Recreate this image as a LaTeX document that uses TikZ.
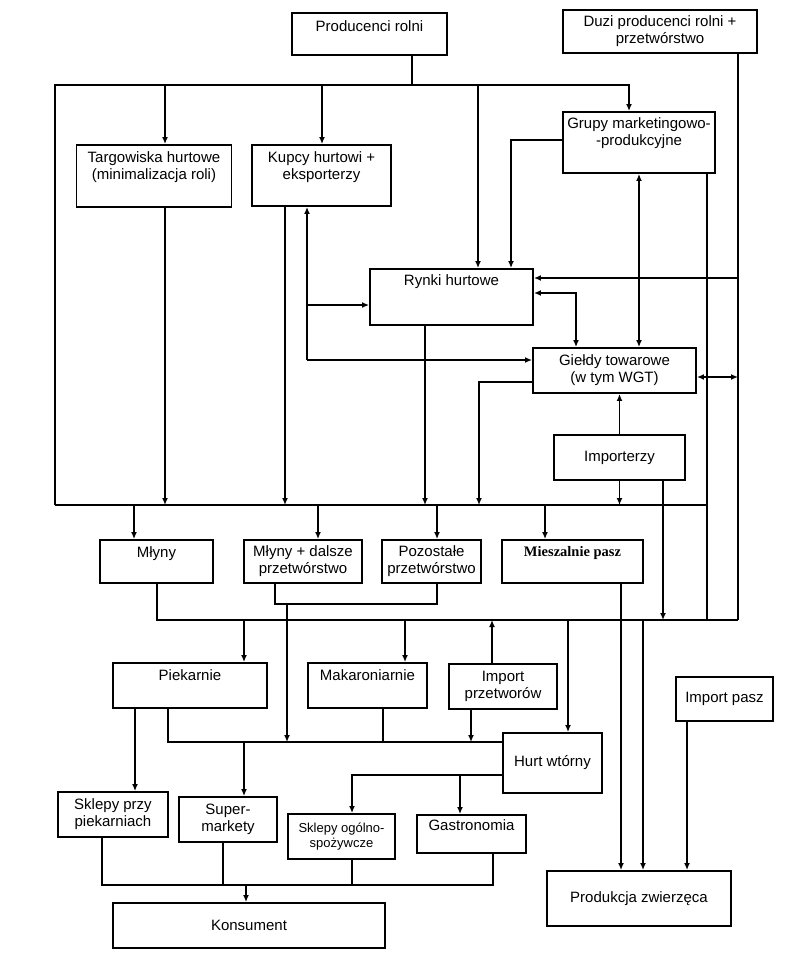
\documentclass[tikz,border=0pt]{standalone}
\usepackage{fontspec}
\setmainfont{Liberation Sans}
\newfontfamily\serifbf{Liberation Serif}
\usetikzlibrary{arrows.meta}
\newcommand\fs{\fontsize{15}{17}\selectfont}
\newcommand\fss{\fontsize{13}{15}\selectfont}
\begin{document}
\begin{tikzpicture}[x=1pt,y=-1pt,
  ln/.style={line width=1.9pt},
  arr/.style={ln,-{Latex[length=7pt,width=6pt]}},
  arr2/.style={ln,{Latex[length=7pt,width=6pt]}-{Latex[length=7pt,width=6pt]}},
  bx/.style={draw,line width=1.9pt,inner sep=0pt,align=center,font=\fs},
  lbl/.style={anchor=north,inner sep=0pt,align=center,font=\fs},
]
\useasboundingbox (0,0) rectangle (803,955);
% boxes
\node[bx,minimum width=155,minimum height=42,label={[lbl,yshift=-8pt]north:Producenci rolni}] (prod) at (369.5,34) {};
\node[bx,minimum width=194,minimum height=43] (duzi) at (660,31.5) {Duzi producenci rolni +\\przetwórstwo};
\node[bx,minimum width=152,minimum height=61,label={[lbl,yshift=-6pt]north:Grupy marketingowo-\\-produkcyjne}] (grupy) at (639,142.5) {};
\node[bx,minimum width=155,minimum height=62,label={[lbl,yshift=-7pt]north:Targowiska hurtowe\\(minimalizacja roli)}] (targ) at (154,176) {};
\node[bx,minimum width=139,minimum height=61,label={[lbl,yshift=-7pt]north:Kupcy hurtowi +\\eksporterzy}] (kupcy) at (321.5,175.5) {};
\node[bx,minimum width=163,minimum height=56,label={[lbl,yshift=-6pt]north:Rynki hurtowe}] (rynki) at (451.5,297) {};
\node[bx,minimum width=163,minimum height=45] (gieldy) at (614.5,370.5) {Giełdy towarowe\\(w tym WGT)};
\node[bx,minimum width=131,minimum height=45] (imp) at (619.5,457.5) {Importerzy};
\node[bx,minimum width=113,minimum height=43,label={[lbl,yshift=-7pt]north:Młyny}] (mlyny) at (156.5,561.5) {};
\node[bx,minimum width=118,minimum height=43] (mlyny2) at (303,561.5) {Młyny + dalsze\\przetwórstwo};
\node[bx,minimum width=99,minimum height=43] (pozost) at (431.5,561.5) {Pozostałe\\przetwórstwo};
\node[bx,minimum width=141,minimum height=43,label={[lbl,yshift=-7pt,font=\serifbf\bfseries\fontsize{14.5}{16}\selectfont]north:Mieszalnie pasz}] (miesz) at (572.5,561.5) {};
\node[bx,minimum width=154,minimum height=45,label={[lbl,yshift=-7pt]north:Piekarnie}] (piek) at (190,685.5) {};
\node[bx,minimum width=119,minimum height=45,label={[lbl,yshift=-7pt]north:Makaroniarnie}] (makar) at (367.5,685.5) {};
\node[bx,minimum width=108,minimum height=45] (impp) at (503,686.5) {Import\\przetworów};
\node[bx,minimum width=97,minimum height=44] (imppasz) at (724.5,699) {Import pasz};
\node[bx,minimum width=99,minimum height=60] (hurt) at (552.5,763) {Hurt wtórny};
\node[bx,minimum width=110,minimum height=45] (skp) at (113,814.5) {Sklepy przy\\piekarniach};
\node[bx,minimum width=98,minimum height=45] (super) at (228,819.5) {Super-\\markety};
\node[bx,minimum width=107,minimum height=45,font=\fss] (skog) at (341.5,836.5) {Sklepy ogólno-\\spożywcze};
\node[bx,minimum width=109,minimum height=38,label={[lbl,yshift=-5pt]north:Gastronomia}] (gastro) at (471.5,834) {};
\node[bx,minimum width=272,minimum height=45] (kons) at (249,925.5) {Konsument};
\node[bx,minimum width=184,minimum height=55] (prodz) at (639,898.5) {Produkcja zwierzęca};
% coordinates
\coordinate (tl) at (55,85);
\coordinate (bl) at (55,505);
\coordinate (br) at (707,505);
\coordinate (pb) at (412,85);
\coordinate (gt) at (629,85);
\coordinate (t1) at (165,85);
\coordinate (t2) at (322,85);
\coordinate (t3) at (478,85);
\coordinate (g1) at (511,140);
\coordinate (r1) at (576,293);
\coordinate (dx) at (738,620);
\coordinate (d1) at (738,278);
\coordinate (d2) at (738,377);
\coordinate (gx) at (707,620);
\coordinate (k1) at (307,305);
\coordinate (k2) at (307,360);
\coordinate (k3) at (285,505);
\coordinate (r2) at (425,505);
\coordinate (gl) at (479,382);
\coordinate (i2) at (663,620);
\coordinate (m1) at (134,505);
\coordinate (m2) at (318,505);
\coordinate (m3) at (437,505);
\coordinate (m4) at (545,505);
\coordinate (b2l) at (157,620);
\coordinate (c1) at (275,604);
\coordinate (c2) at (437,604);
\coordinate (c3) at (287,604);
\coordinate (c4) at (287,742);
\coordinate (p1) at (244,620);
\coordinate (p2) at (405,620);
\coordinate (e1) at (492,620);
\coordinate (e2) at (568,620);
\coordinate (e3) at (621,620);
\coordinate (e4) at (643,620);
\coordinate (e5) at (687,760);
\coordinate (f0) at (135,742);
\coordinate (f1) at (168,742);
\coordinate (f2) at (383,742);
\coordinate (f3) at (471,742);
\coordinate (f4) at (244,742);
\coordinate (h1) at (352,775);
\coordinate (h2) at (460,775);
\coordinate (z1) at (102,885);
\coordinate (z2) at (493,885);
\coordinate (z3) at (223,885);
\coordinate (z4) at (352,885);
\coordinate (z5) at (246,885);
% top part
\draw[ln] (prod.south -| pb) -- (pb);
\draw[arr] (bl) -- (tl) -- (gt) -- (gt |- grupy.north);
\draw[arr] (t1) -- (t1 |- targ.north);
\draw[arr] (t2) -- (t2 |- kupcy.north);
\draw[arr] (t3) -- (t3 |- rynki.north);
\draw[arr] (g1 -| grupy.west) -- (g1) -- (g1 |- rynki.north);
\draw[arr2] (grupy.south) -- (grupy.south |- gieldy.north);
\draw[arr2] (r1 -| rynki.east) -- (r1) -- (r1 |- gieldy.north);
\draw[ln] (duzi.south -| dx) -- (dx);
\draw[arr] (d1) -- (d1 -| rynki.east);
\draw[arr2] (d2 -| gieldy.east) -- (d2);
\draw[ln] (grupy.south -| gx) -- (gx);
\draw[ln] (bl) -- (br);
\draw[arr] (k2) -- (k2 |- kupcy.south);
\draw[arr] (k1) -- (k1 -| rynki.west);
\draw[arr] (k2) -- (k2 -| gieldy.west);
\draw[arr] (targ.south -| t1) -- (t1 |- bl);
\draw[arr] (kupcy.south -| k3) -- (k3);
\draw[arr] (rynki.south -| r2) -- (r2);
\draw[arr] (gl -| gieldy.west) -- (gl) -- (gl |- bl);
\draw[arr] (imp.north) -- (imp.north |- gieldy.south);
\draw[arr] (imp.south) -- (imp.south |- bl);
\draw[arr] (imp.south -| i2) -- (i2);
% middle
\draw[arr] (m1) -- (m1 |- mlyny.north);
\draw[arr] (m2) -- (m2 |- mlyny2.north);
\draw[arr] (m3) -- (m3 |- pozost.north);
\draw[arr] (m4) -- (m4 |- miesz.north);
\draw[ln] (mlyny.south -| b2l) -- (b2l) -- (dx);
\draw[ln] (mlyny2.south -| c1) -- (c1) -- (c2) -- (pozost.south -| c2);
\draw[arr] (c3) -- (c4);
\draw[arr] (p1) -- (p1 |- piek.north);
\draw[arr] (p2) -- (p2 |- makar.north);
\draw[arr] (impp.north -| e1) -- (e1);
\draw[arr] (e2) -- (e2 |- hurt.north);
\draw[arr] (miesz.south -| e3) -- (e3 |- prodz.north);
\draw[arr] (e4) -- (e4 |- prodz.north);
\draw[arr] (imppasz.south -| e5) -- (e5 |- prodz.north);
% lower part
\draw[ln] (piek.south -| f1) -- (f1) -- (f1 -| hurt.west);
\draw[arr] (piek.south -| f0) -- (f0 |- skp.north);
\draw[ln] (makar.south -| f2) -- (f2);
\draw[arr] (impp.south -| f3) -- (f3);
\draw[arr] (f4) -- (f4 |- super.north);
\draw[arr] (h1 -| hurt.west) -- (h1) -- (h1 |- skog.north);
\draw[arr] (h2) -- (h2 |- gastro.north);
\draw[ln] (skp.south -| z1) -- (z1) -- (z2) -- (gastro.south -| z2);
\draw[ln] (super.south -| z3) -- (z3);
\draw[ln] (skog.south -| z4) -- (z4);
\draw[arr] (z5) -- (z5 |- kons.north);
\end{tikzpicture}
\end{document}
